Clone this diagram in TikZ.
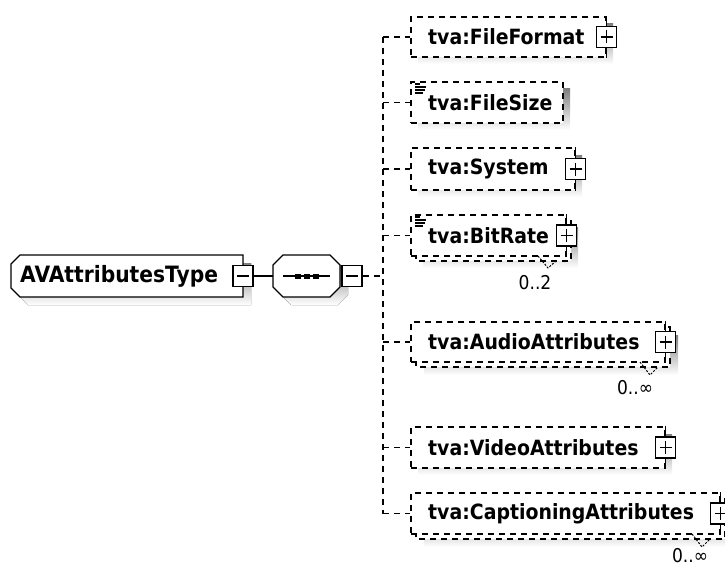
\documentclass[tikz,border=0pt]{standalone}
\usepackage{fontspec}
\setmainfont{DejaVu Sans}[FakeStretch=0.9]
\definecolor{shade}{RGB}{184,184,184}
\tikzset{
  dsh/.style={line width=1.4pt, dash pattern=on 6pt off 5pt},
  outl/.style={line width=1.4pt},
  elem/.style={draw, dsh, fill=white, rectangle, inner sep=0pt},
  pmbox/.style={draw, outl, solid, fill=white, rectangle, inner sep=0pt, minimum width=20pt, minimum height=21pt},
  plusbox/.style={pmbox, path picture={\draw[line width=1.3pt] ([xshift=4pt]path picture bounding box.west) -- ([xshift=-4pt]path picture bounding box.east) ([yshift=-4pt]path picture bounding box.north) -- ([yshift=4pt]path picture bounding box.south);}},
  minusbox/.style={pmbox, path picture={\draw[line width=1.3pt] ([xshift=4pt]path picture bounding box.west) -- ([xshift=-4pt]path picture bounding box.east);}},
  lbl/.style={font=\bfseries\fontsize{21}{24}\selectfont, anchor=west, inner sep=0pt},
  card/.style={font=\fontsize{19}{22}\selectfont, inner sep=0pt},
  stub/.style={line width=1.2pt, solid},
  occ/.style={line width=1pt, dash pattern=on 2pt off 1.5pt},
  icon/.style={line width=1.2pt},
  hold/.style={inner sep=0pt, rectangle},
}
\begin{document}
\begin{tikzpicture}[x=1pt, y=-1pt]
\useasboundingbox (0,0) rectangle (725,567);
\clip (0,0) rectangle (725,567);

% ---------- shadows ----------
\fill[shade] (28,263) -- (251,263) -- (251,305) -- (28,305) -- (19,296) -- (19,272) -- cycle;
\fill[shade] (291,263) -- (338,263) -- (348,273) -- (348,295) -- (338,305) -- (291,305) -- (281,295) -- (281,273) -- cycle;
\fill[shade] (418,24) rectangle (613,64);
\fill[shade] (418,89) rectangle (570,130);
\fill[shade] (418,155) rectangle (582,197);
\fill[shade] (423,227) rectangle (578,268);
\fill[shade] (424,335) rectangle (678,375);
\fill[shade] (418,434) rectangle (672,475);
\fill[shade] (424,506) rectangle (733,547);

% ---------- root complex type ----------
\node[hold, minimum width=232pt, minimum height=42pt] (root) at (127,276) {};
\draw[outl, fill=white] (20,255) -- (243,255) -- (243,297) -- (20,297) -- (11,288) -- (11,264) -- cycle;
\node[lbl, font=\bfseries\fontsize{22.5}{26}\selectfont] (roott) at (20,276) {AVAttributesType};
\node[minusbox] (rootm) at (243,276) {};

% ---------- sequence compositor ----------
\node[hold, minimum width=67pt, minimum height=42pt] (seq) at (306.5,276) {};
\draw[outl, fill=white] (283,255) -- (330,255) -- (340,265) -- (340,287) -- (330,297) -- (283,297) -- (273,287) -- (273,265) -- cycle;
\draw[outl] (283,276) -- (330,276);
\foreach \q in {298,307,316} \fill (\q-3,273.5) rectangle (\q+3,278.5);
\node[minusbox] (seqm) at (352,276) {};
\draw[outl] (rootm.east) -- (seq.west);

% ---------- bus ----------
\coordinate (bus) at (383,276);
\coordinate (b1) at (383,37);
\coordinate (b2) at (383,102.5);
\coordinate (b3) at (383,169);
\coordinate (b4) at (383,235.5);
\coordinate (b5) at (383,342);
\coordinate (b6) at (383,447.5);
\coordinate (b7) at (383,513.5);
\draw[dsh] (seqm.east) -- (bus);
\draw[dsh] (b1) -- (b7);

% ---------- FileFormat ----------
\node[elem, minimum width=195pt, minimum height=40pt] (ff) at (508.5,37) {};
\node[lbl] (fft) at (428,37) {tva:FileFormat};
\node[plusbox] (ffp) at (ff.east) {};
\draw[stub] (ff.north east) -- (ffp.north) (ffp.south) -- (ff.south east);
\draw[dsh] (b1) -- (ff.west);

% ---------- FileSize ----------
\node[elem, minimum width=152pt, minimum height=41pt] (fs) at (487,102.5) {};
\node[lbl] (fst) at (428,102.5) {tva:FileSize};
\draw[icon] (415,84) -- (420,84) (415,87) -- (426,87) (415,90) -- (425,90) (415,93) -- (423,93);
\draw[dsh] (b2) -- (fs.west);

% ---------- System ----------
\node[elem, minimum width=164pt, minimum height=42pt] (sy) at (493,169) {};
\node[lbl] (syt) at (428,169) {tva:System};
\node[plusbox] (syp) at (sy.east) {};
\draw[stub] (sy.north east) -- (syp.north) (syp.south) -- (sy.south east);
\draw[dsh] (b3) -- (sy.west);

% ---------- BitRate (multiple) ----------
\draw[dsh, fill=white] (416,220) rectangle (571,261);
\node[elem, minimum width=155pt, minimum height=41pt] (br) at (488.5,235.5) {};
\node[lbl] (brt) at (428,235.5) {tva:BitRate};
\draw[icon] (415,217) -- (420,217) (415,220) -- (426,220) (415,223) -- (425,223) (415,226) -- (423,226);
\node[plusbox] (brp) at (br.east) {};
\draw[stub] (br.north east) -- (brp.north) (brp.south) -- (br.south east);
\coordinate (brv) at (548,268);
\draw[occ] (538,256) -- (brv) -- (556,261);
\node[card] (brc) at (535,283) {0..2};
\draw[dsh] (b4) -- (br.west);

% ---------- AudioAttributes (multiple) ----------
\draw[dsh, fill=white] (416,327) rectangle (670,367);
\node[elem, minimum width=254pt, minimum height=40pt] (au) at (538,342) {};
\node[lbl] (aut) at (428,342) {tva:AudioAttributes};
\node[plusbox] (aup) at (au.east) {};
\draw[stub] (au.north east) -- (aup.north) (aup.south) -- (au.south east);
\coordinate (auv) at (650,375);
\draw[occ] (640,362) -- (auv) -- (658,367);
\node[card] (auc) at (635,388) {0..∞};
\draw[dsh] (b5) -- (au.west);

% ---------- VideoAttributes ----------
\node[elem, minimum width=254pt, minimum height=41pt] (vi) at (538,447.5) {};
\node[lbl] (vit) at (428,447.5) {tva:VideoAttributes};
\node[plusbox] (vip) at (vi.east) {};
\draw[stub] (vi.north east) -- (vip.north) (vip.south) -- (vi.south east);
\draw[dsh] (b6) -- (vi.west);

% ---------- CaptioningAttributes (multiple) ----------
\draw[dsh, fill=white] (416,498) rectangle (725,539);
\node[elem, minimum width=309pt, minimum height=41pt] (ca) at (565.5,513.5) {};
\node[lbl] (cat) at (428,513.5) {tva:CaptioningAttributes};
\node[plusbox] (cap) at (ca.east) {};
\draw[stub] (ca.north east) -- (cap.north) (cap.south) -- (ca.south east);
\coordinate (cav) at (702,547);
\draw[occ] (692,534) -- (cav) -- (710,539);
\node[card] (cac) at (690,556) {0..∞};
\draw[dsh] (b7) -- (ca.west);
\end{tikzpicture}
\end{document}
